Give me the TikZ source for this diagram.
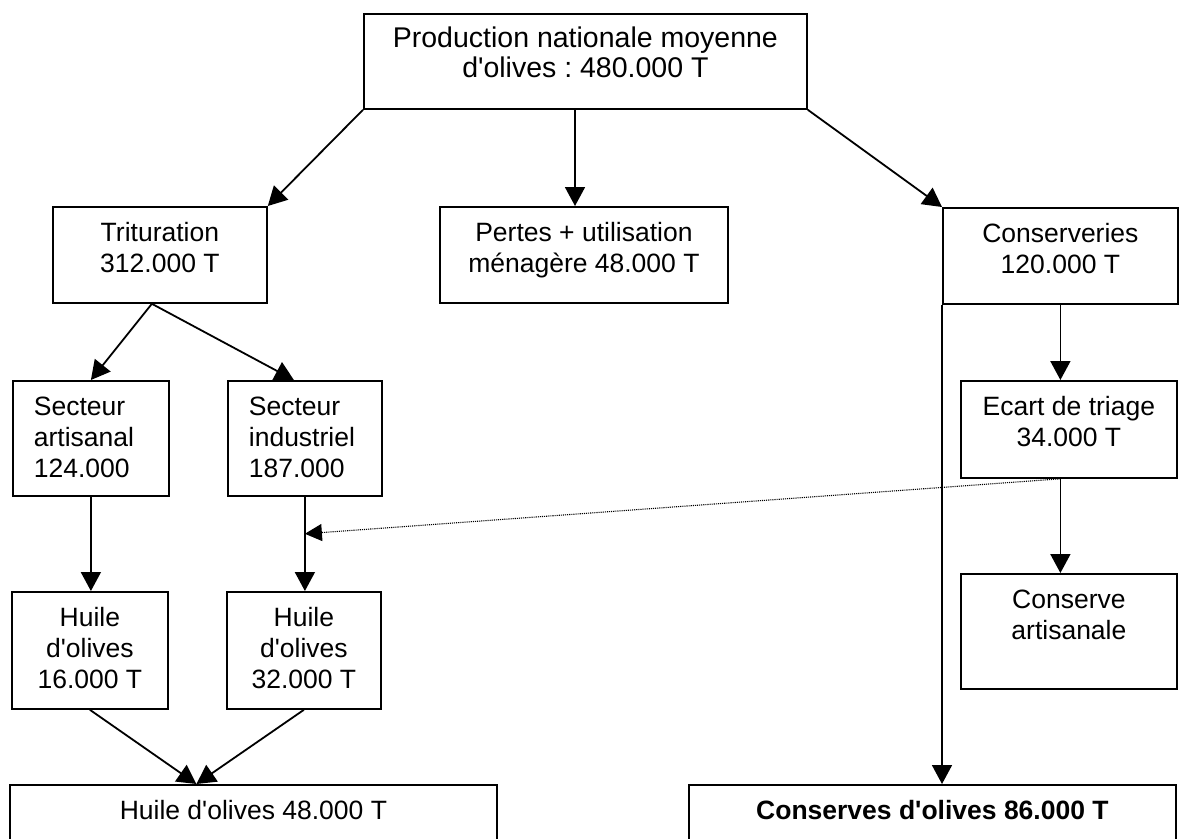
\documentclass[tikz,border=0pt]{standalone}
\usepackage{fontspec}
\defaultfontfeatures[\rmfamily]{}
\setmainfont{Liberation Sans}
\usetikzlibrary{arrows.meta}
\frenchspacing

% box contents: [alignment] {width} {height} {text}
\newcommand{\cadre}[4][\centering]{\parbox[t][#3pt][t]{#2pt}{#1\vspace*{13pt}\strut #4}}

\tikzset{
  boite/.style={draw, line width=1.8pt, inner sep=0pt, anchor=north west,
    font=\fontsize{26.5}{31}\selectfont},
  fleche/.style={line width=1.8pt, -{Triangle[length=19pt, width=20pt]}},
  pointille/.style={densely dotted, line width=1.1pt, -{Triangle[length=17pt, width=17pt]}}
}

\begin{document}
\begin{tikzpicture}[x=1pt, y=-1pt]
\useasboundingbox (0,0) rectangle (1183,838);
\clip (0,0) rectangle (1183,838);

% Production
\node[boite, font=\fontsize{28.5}{30}\selectfont] (prod) at (363,13)
  {\cadre{443}{95}{Production nationale moyenne\\d'olives : 480.000 T}};

% Destinations
\node[boite] (trit) at (52,206) {\cadre{214}{96}{Trituration\\312.000 T}};
\node[boite] (pertes) at (439,206) {\cadre{288}{96}{Pertes + utilisation\\ménagère 48.000 T}};
\node[boite] (consv) at (942,207) {\cadre{235}{96}{Conserveries\\120.000 T}};

% Trituration
\node[boite] (sart) at (12,380) {\cadre[\raggedright\leftskip=21pt\relax]{156}{115}{Secteur\\artisanal\\124.000}};
\node[boite] (sind) at (227,380) {\cadre[\raggedright\leftskip=21pt\relax]{154}{115}{Secteur\\industriel\\187.000}};
\node[boite] (h16) at (11,591) {\cadre{156}{117}{Huile\\d'olives\\16.000 T}};
\node[boite] (h32) at (226,591) {\cadre{154}{117}{Huile\\d'olives\\32.000 T}};

% Conserveries
\node[boite] (ecart) at (960,380) {\cadre{216}{97}{Ecart de triage\\34.000 T}};
\node[boite] (cart) at (960,573) {\cadre{216}{115}{Conserve\\artisanale}};

% Totals
\node[boite] (thuile) at (9,784) {\cadre{487}{90}{Huile d'olives 48.000 T}};
\node[boite] (tcons) at (688,784) {\cadre{487}{90}{\bfseries Conserves d'olives 86.000 T}};

\coordinate (axe) at (575,0);
\coordinate (jonction) at ([xshift=-57pt]thuile.north);
\coordinate (cible) at ([yshift=-37pt]sind.south);

% Arrows
\draw[fleche] (prod.south west) -- (trit.north east);
\draw[fleche] (prod.south -| axe) -- (pertes.north -| axe);
\draw[fleche] (prod.south east) -- (consv.north west);

\draw[fleche] ([xshift=-8pt]trit.south) -- (sart.north);
\draw[fleche] ([xshift=-8pt]trit.south) -- ([xshift=-11pt]sind.north);
\draw[fleche] (sart.south) -- (sart.south |- h16.north);
\draw[fleche] (sind.south) -- (sind.south |- h32.north);
\draw[fleche] (h16.south) -- (jonction);
\draw[fleche] (h32.south) -- (jonction);

\draw[fleche] (consv.south) -- (consv.south |- ecart.north);
\draw[fleche] (consv.south |- ecart.south) -- (consv.south |- cart.north);
\draw[fleche] (consv.south west) -- (consv.south west |- tcons.north);
\draw[pointille] (consv.south |- ecart.south) -- (cible);

\end{tikzpicture}
\end{document}
